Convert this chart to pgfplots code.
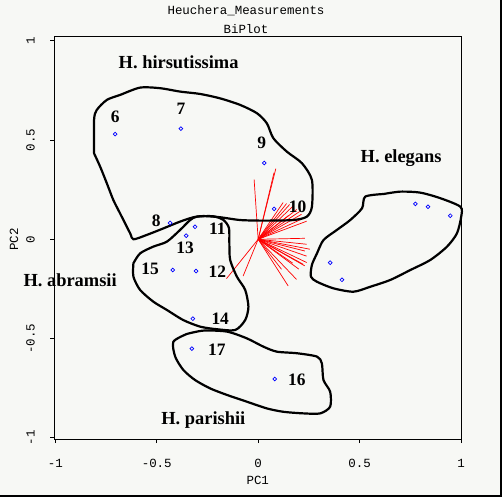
\documentclass[border=0pt]{standalone}
\usepackage{fontspec}
\setmainfont{Liberation Serif}
\setmonofont{Liberation Mono}
\usepackage{pgfplots}
\pgfplotsset{compat=1.18}
\definecolor{bgcol}{RGB}{247,248,245}
\definecolor{ptblue}{RGB}{0,0,255}
\definecolor{ldred}{RGB}{255,0,0}

\pgfplotstableread{
x y u v
0 0 -0.020 0.302
0 0 0.087 0.356
0 0 0.078 0.335
0 0 0.123 0.185
0 0 0.140 0.180
0 0 0.155 0.175
0 0 0.173 0.168
0 0 0.190 0.150
0 0 0.205 0.140
0 0 0.214 0.126
0 0 0.230 0.109
0 0 0.239 0.091
0 0 0.150 0.120
0 0 0.230 0.005
0 0 0.239 -0.025
0 0 0.255 -0.050
0 0 0.230 -0.059
0 0 0.239 -0.085
0 0 0.239 -0.117
0 0 0.230 -0.134
0 0 0.222 -0.126
0 0 0.200 -0.150
0 0 0.189 -0.202
0 0 0.148 -0.235
0 0 0.115 -0.151
0 0 0.170 -0.120
0 0 -0.156 -0.198
0 0 -0.074 -0.185
}\loadings

\pgfplotstableread{
x y
-0.705 0.530
-0.381 0.557
0.030 0.384
0.079 0.153
-0.434 0.082
-0.311 0.063
-0.355 0.018
-0.421 -0.155
-0.306 -0.160
-0.322 -0.400
-0.327 -0.551
0.082 -0.704
0.775 0.178
0.837 0.164
0.947 0.119
0.355 -0.118
0.413 -0.204
}\scores

\begin{document}
\begin{tikzpicture}
\fill[bgcol] (-54.5bp,-58bp) rectangle (447.5bp,439bp);
\begin{axis}[
    scale only axis,
    width=406.5bp, height=403bp,
    xmin=-1.004, xmax=1.0,
    ymin=-1.006, ymax=1.024,
    clip=false,
    axis line style={line width=0.8bp},
    tick align=outside,
    major tick length=4bp,
    tick style={black, line width=0.8bp},
    xtick pos=bottom, ytick pos=left,
    xtick={-1,-0.5,0,0.5,1},
    xticklabels={-1,-0.5,0,0.5,1},
    ytick={-1,-0.5,0,0.5,1},
    yticklabels={-1,-0.5,0,0.5,1},
    ticklabel style={font=\ttfamily\fontsize{12.5}{14}\selectfont},
    xticklabel style={anchor=center, yshift=-20bp},
    yticklabel style={xshift=-20bp, rotate=90, anchor=center},
    xlabel={PC1},
    ylabel={PC2},
    label style={font=\ttfamily\fontsize{12.5}{14}\selectfont},
    xlabel style={at={(rel axis cs:0.5,0)}, anchor=center, yshift=-41bp},
    ylabel style={at={([xshift=-40.5bp,yshift=-2bp]rel axis cs:0,0.5)}, anchor=center},
]
% loadings
\addplot[ldred, line width=0.7bp, quiver={u=\thisrow{u}, v=\thisrow{v}}] table[x=x, y=y] {\loadings};
% scores
\addplot[only marks, mark=o, mark size=1.9bp, ptblue, mark options={line width=0.7bp}] table {\scores};
% group outlines
\addplot[black, line width=2.2bp, smooth, tension=0.45] coordinates {
(-0.809,0.433) (-0.809,0.601) (-0.796,0.651) (-0.746,0.702) (-0.681,0.727)
(-0.582,0.764) (-0.483,0.761) (-0.385,0.744) (-0.286,0.732) (-0.188,0.710)
(-0.089,0.677) (-0.006,0.635) (0.043,0.584) (0.075,0.509) (0.142,0.441)
(0.216,0.383) (0.265,0.299) (0.265,0.164) (0.240,0.114) (0.174,0.097)
(0.026,0.094) (-0.089,0.097) (-0.187,0.111) (-0.270,0.117) (-0.319,0.111)
(-0.385,0.089) (-0.467,0.055) (-0.549,0.022) (-0.615,0.000) (-0.631,0.030)
(-0.681,0.131) (-0.714,0.198) (-0.746,0.282) (-0.779,0.366) (-0.809,0.433)
};
\addplot[black, line width=2.2bp, smooth, tension=0.45] coordinates {
(-0.615,-0.121) (-0.582,-0.071) (-0.517,-0.037) (-0.450,-0.012) (-0.385,0.047)
(-0.335,0.097) (-0.302,0.114) (-0.222,0.116) (-0.171,0.097) (-0.144,0.057)
(-0.142,-0.020) (-0.138,-0.104) (-0.105,-0.188) (-0.064,-0.255) (-0.048,-0.340)
(-0.064,-0.407) (-0.113,-0.457) (-0.204,-0.453) (-0.286,-0.440) (-0.369,-0.407)
(-0.450,-0.356) (-0.517,-0.314) (-0.582,-0.255) (-0.615,-0.188) (-0.615,-0.121)
};
\addplot[black, line width=2.2bp, smooth, tension=0.45] coordinates {
(-0.352,-0.477) (-0.270,-0.460) (-0.154,-0.465) (-0.056,-0.499) (0.026,-0.541)
(0.092,-0.566) (0.191,-0.574) (0.290,-0.591) (0.314,-0.625) (0.322,-0.709)
(0.355,-0.768) (0.355,-0.843) (0.306,-0.877) (0.224,-0.877) (0.125,-0.869)
(0.043,-0.852) (-0.056,-0.818) (-0.154,-0.784) (-0.237,-0.751) (-0.311,-0.709)
(-0.369,-0.658) (-0.409,-0.591) (-0.418,-0.516) (-0.352,-0.477)
};
\addplot[black, line width=2.2bp, smooth, tension=0.45] coordinates {
(0.618,0.228) (0.701,0.240) (0.799,0.235) (0.898,0.207) (0.997,0.164)
(1.001,0.114) (0.980,0.030) (0.931,-0.037) (0.849,-0.104) (0.750,-0.155)
(0.651,-0.205) (0.553,-0.239) (0.470,-0.264) (0.371,-0.247) (0.290,-0.214)
(0.260,-0.188) (0.265,-0.129) (0.290,-0.071) (0.322,-0.004) (0.388,0.047)
(0.454,0.097) (0.512,0.156) (0.528,0.215) (0.618,0.228)
};
% labels
\begin{scope}[every node/.style={font=\bfseries\fontsize{18.5}{21}\selectfont, inner sep=0pt}]
\node at (axis cs:-0.392,0.893) {H. hirsutissima};
\node at (axis cs:0.705,0.410) {H. elegans};
\node at (axis cs:-0.927,-0.205) {H. abramsii};
\node at (axis cs:-0.270,-0.910) {H. parishii};
\end{scope}
\begin{scope}[every node/.style={font=\bfseries\fontsize{17.5}{20}\selectfont, inner sep=0pt}]
\node at (axis cs:-0.705,0.618) {6};
\node at (axis cs:-0.381,0.655) {7};
\node at (axis cs:0.018,0.484) {9};
\node at (axis cs:0.194,0.164) {10};
\node at (axis cs:-0.503,0.092) {8};
\node at (axis cs:-0.201,0.055) {11};
\node at (axis cs:-0.360,-0.045) {13};
\node at (axis cs:-0.533,-0.151) {15};
\node at (axis cs:-0.201,-0.163) {12};
\node at (axis cs:-0.187,-0.402) {14};
\node at (axis cs:-0.204,-0.554) {17};
\node at (axis cs:0.191,-0.709) {16};
\end{scope}
\end{axis}
\node[font=\ttfamily\fontsize{12.5}{14}\selectfont, inner sep=0pt] at (191.5bp,428bp) {Heuchera\_Measurements};
\node[font=\ttfamily\fontsize{12.5}{14}\selectfont, inner sep=0pt] at (191.5bp,410bp) {BiPlot};
\draw[black, line width=2bp] (446.5bp,-58bp) -- (446.5bp,439bp);
\draw[black, line width=2bp] (-54.5bp,-57bp) -- (447.5bp,-57bp);
\pgfresetboundingbox
\useasboundingbox (-54.5bp,-58bp) rectangle (447.5bp,439bp);
\end{tikzpicture}
\end{document}
